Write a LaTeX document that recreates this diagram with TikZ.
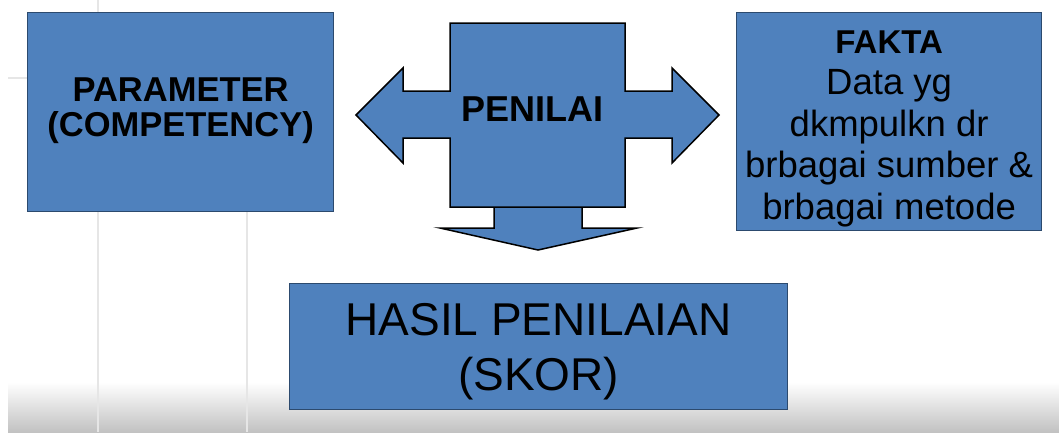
\documentclass[tikz,border=0pt]{standalone}
\usepackage{fontspec}
\setmainfont{Liberation Sans}
\usetikzlibrary{positioning}
\definecolor{boxblue}{HTML}{4F81BD}
\definecolor{boxedge}{HTML}{2C4A6E}
\definecolor{gridgray}{HTML}{E6E6E6}

\begin{document}
\begin{tikzpicture}[x=1pt,y=-1pt,
  blockbox/.style={draw=boxedge,line width=1.2pt,fill=boxblue,inner sep=0pt,anchor=north west},
  blockarrow/.style={draw=black,line width=1.5pt,fill=boxblue,line join=miter},
  gridline/.style={draw=gridgray,line width=1.5pt}]
  \useasboundingbox (0,0) rectangle (1059,432);

  \shade[top color=white,bottom color=black!24] (8,382) rectangle (1059,432); %Slide shadow
  \draw[gridline] (98,0) -- (98,12);     %Grid lines behind the slide
  \draw[gridline] (98,211) -- (98,432);
  \draw[gridline] (247,211) -- (247,432);
  \draw[gridline] (8,78) -- (27,78);

  \node[blockbox,minimum width=306pt,minimum height=199pt] (param) at (27,12) {}; %Left box
  \node[align=center,font=\fontsize{34.5}{35}\selectfont\bfseries] (paramtxt) at ([yshift=1pt]param.center)
    {PARAMETER\\(COMPETENCY)};

  \node[blockbox,minimum width=305pt,minimum height=218pt] (fakta) at (736,12) {}; %Right box
  \node[align=center,font=\fontsize{36.5}{41.5}\selectfont] (faktatxt) at ([yshift=-7pt]fakta.center)
    {{\fontsize{33}{41.5}\selectfont\bfseries FAKTA}\\Data yg\\dkmpulkn dr\\brbagai sumber \&\\brbagai metode};

  \node[blockbox,minimum width=498pt,minimum height=126pt] (hasil) at (289,283) {}; %Result box
  \node[align=center,font=\fontsize{46}{55}\selectfont] (hasiltxt) at ([yshift=-5pt]hasil.center)
    {HASIL PENILAIAN\\(SKOR)};

  \draw[blockarrow] (494,207) -- (582,207) -- (582,228) -- (637,228) -- (538,250)
    -- (440,228) -- (494,228) -- cycle; %Down arrow
  \draw[blockarrow] (450,23) -- (625,23) -- (625,91) -- (672,91) -- (672,68) -- (719,115)
    -- (672,163) -- (672,138) -- (625,138) -- (625,207) -- (450,207) -- (450,138)
    -- (403,138) -- (403,163) -- (356,115) -- (403,68) -- (403,91) -- (450,91) -- cycle; %Left-right arrow
  \node[font=\fontsize{36}{40}\selectfont\bfseries] (penilai) at (532,109) {PENILAI};
\end{tikzpicture}
\end{document}
